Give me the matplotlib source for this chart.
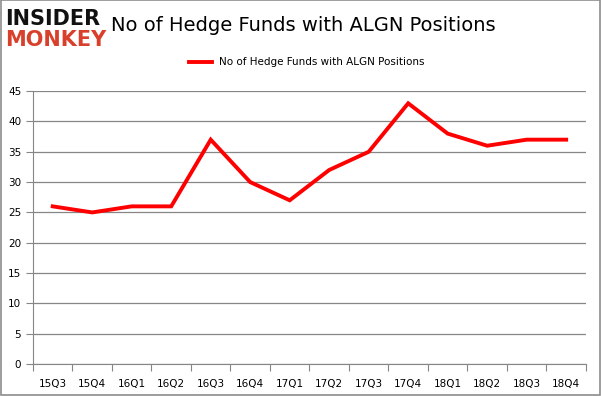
import matplotlib.pyplot as plt
from matplotlib.patches import Rectangle

quarters = ['15Q3', '15Q4', '16Q1', '16Q2', '16Q3', '16Q4', '17Q1',
            '17Q2', '17Q3', '17Q4', '18Q1', '18Q2', '18Q3', '18Q4']
funds = [26, 25, 26, 26, 37, 30, 27, 32, 35, 43, 38, 36, 37, 37]
yticks = [0, 5, 10, 15, 20, 25, 30, 35, 40, 45]

plt.rcParams['font.family'] = ['DejaVu Sans']

fig = plt.figure(figsize=(6.01, 3.96), dpi=100)
fig.patches.append(Rectangle((0.001, 0.003), 0.997, 0.996, transform=fig.transFigure,
                             fill=False, edgecolor='#8c8c8c', linewidth=1.2))

ax = fig.add_axes([0.0549, 0.0808, 0.920, 0.689])
x = range(len(quarters))
ax.plot(x, funds, color='#ff0000', linewidth=2.8, solid_joinstyle='miter',
        label='No of Hedge Funds with ALGN Positions')

ax.set_xlim(-0.5, len(quarters) - 0.5)
ax.set_ylim(0, 45)
ax.set_yticks(yticks)
ax.set_xticks([i + 0.5 for i in range(-1, len(quarters))], minor=False)
ax.set_xticklabels([])
ax.set_xticks(list(x), minor=True)
ax.set_xticklabels(quarters, minor=True)
ax.tick_params(axis='x', which='major', length=5, color='#868686')
ax.tick_params(axis='x', which='minor', length=0, pad=11, labelsize=7.5)
ax.tick_params(axis='y', length=5, color='#868686', labelsize=7.5)
ax.grid(axis='y', color='#868686', linewidth=0.9)
ax.set_axisbelow(True)
for side in ['top', 'right']:
    ax.spines[side].set_visible(False)
for side in ['left', 'bottom']:
    ax.spines[side].set_color('#868686')

fig.text(0.505, 0.935, 'No of Hedge Funds with ALGN Positions', ha='center', va='center',
         fontsize=14)
ax.legend(loc='center', bbox_to_anchor=(0.495, 1.106), frameon=False, fontsize=7.5,
          handlelength=2.2, handletextpad=0.6)

# logo
fig.text(0.008, 0.952, 'INSIDER', fontsize=15, fontweight='heavy', color='#111111',
         va='center', ha='left', family='DejaVu Sans')
fig.text(0.008, 0.898, 'MONKEY', fontsize=15, fontweight='heavy', color='#d9402b',
         va='center', ha='left', family='DejaVu Sans')

fig.savefig('out.png', dpi=100)
